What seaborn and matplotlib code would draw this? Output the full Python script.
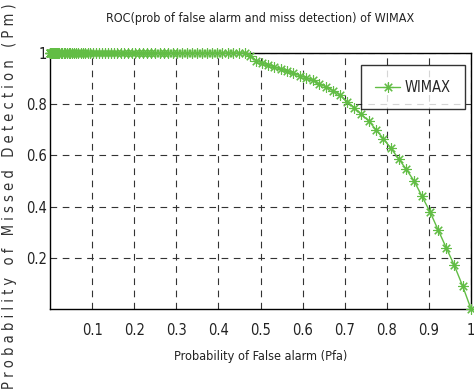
import matplotlib
matplotlib.use('Agg')
import matplotlib.pyplot as plt
import seaborn as sns
import pandas as pd

# ---- data ----
pfa = [0.0, 0.0001, 0.0004, 0.0009, 0.0016, 0.0025, 0.0036, 0.0049, 0.0064, 0.0081,
       0.01, 0.0121, 0.0144, 0.0169, 0.0196, 0.0225, 0.0256, 0.0289, 0.0324, 0.0361,
       0.04, 0.0441, 0.0484, 0.0529, 0.0576, 0.0625, 0.0676, 0.0729, 0.0784, 0.0841,
       0.09, 0.0961, 0.1024, 0.1089, 0.1156, 0.1225, 0.1296, 0.1369, 0.1444, 0.1521,
       0.16, 0.1681, 0.1764, 0.1849, 0.1936, 0.2025, 0.2116, 0.2209, 0.2304, 0.2401,
       0.25, 0.2601, 0.2704, 0.2809, 0.2916, 0.3025, 0.3136, 0.3249, 0.3364, 0.3481,
       0.36, 0.3721, 0.3844, 0.3969, 0.4096, 0.4225, 0.4356, 0.4489, 0.4624, 0.4761,
       0.49, 0.5041, 0.5184, 0.5329, 0.5476, 0.5625, 0.5776, 0.5929, 0.6084, 0.6241,
       0.64, 0.6561, 0.6724, 0.6889, 0.7056, 0.7225, 0.7396, 0.7569, 0.7744, 0.7921,
       0.81, 0.8281, 0.8464, 0.8649, 0.8836, 0.9025, 0.9216, 0.9409, 0.9604, 0.9801,
       1.0]
pmd = [1.0, 1.0, 1.0, 1.0, 1.0, 1.0, 1.0, 1.0, 1.0, 1.0,
       1.0, 1.0, 1.0, 1.0, 1.0, 1.0, 1.0, 1.0, 1.0, 1.0,
       1.0, 1.0, 1.0, 1.0, 1.0, 1.0, 1.0, 1.0, 1.0, 1.0,
       1.0, 1.0, 1.0, 1.0, 1.0, 1.0, 1.0, 1.0, 1.0, 1.0,
       1.0, 1.0, 1.0, 1.0, 1.0, 1.0, 1.0, 1.0, 1.0, 1.0,
       1.0, 1.0, 1.0, 1.0, 1.0, 1.0, 1.0, 1.0, 1.0, 1.0,
       1.0, 1.0, 1.0, 1.0, 1.0, 1.0, 1.0, 1.0, 1.0, 0.99,
       0.97, 0.96, 0.953, 0.945, 0.937, 0.93, 0.92, 0.912, 0.903, 0.893,
       0.879, 0.867, 0.853, 0.836, 0.81, 0.787, 0.76, 0.735, 0.70, 0.665,
       0.627, 0.587, 0.545, 0.50, 0.44, 0.38, 0.31, 0.24, 0.17, 0.09,
       0.0]
xticks = [0.1, 0.2, 0.3, 0.4, 0.5, 0.6, 0.7, 0.8, 0.9, 1.0]
xticklabels = ['0.1', '0.2', '0.3', '0.4', '0.5', '0.6', '0.7', '0.8', '0.9', '1']
yticks = [0.2, 0.4, 0.6, 0.8, 1.0]
yticklabels = ['0.2', '0.4', '0.6', '0.8', '1']

df = pd.DataFrame({'Pfa': pfa, 'Pmd': pmd})

sns.set_style('white')
# narrow face, closest to the squeezed MATLAB font
plt.rcParams['font.family'] = ['DejaVu Sans']
plt.rcParams['font.stretch'] = 'condensed'

green = '#62bd45'
asterisk = (8, 2, 0)   # MATLAB-style '*' marker

fig = plt.figure(figsize=(4.74, 3.92), dpi=100)
ax = fig.add_axes([0.1055, 0.2117, 0.8882, 0.6531])

sns.lineplot(data=df, x='Pfa', y='Pmd', ax=ax, sort=False, estimator=None,
             color=green, lw=1.0, marker=asterisk, markersize=7.5,
             markeredgecolor=green, markeredgewidth=0.8,
             label='WIMAX', clip_on=False, zorder=3)

ax.set_xlim(0, 1)
ax.set_ylim(0, 1)
ax.set_xticks(xticks)
ax.set_xticklabels(xticklabels)
ax.set_yticks(yticks)
ax.set_yticklabels(yticklabels)
ax.tick_params(direction='in', length=4, width=0.8, colors='#222222',
               labelsize=10.5, pad=10)
ax.tick_params(axis='y', pad=2)
ax.grid(True, color='0.2', linestyle=(0, (6, 5)), lw=0.8)
for s in ax.spines.values():
    s.set_color('black')
    s.set_linewidth(1.0)

ax.set_title('ROC(prob of false alarm and miss detection) of WIMAX',
             fontsize=9, pad=22, color='#222222')
ax.set_xlabel('Probability of False alarm (Pfa)', fontsize=9.1, labelpad=9,
              color='#222222')
ax.set_ylabel('P r o b a b i l i t y   o f   M i s s e d   D e t e c t i o n   ( P m )',
              fontsize=10.5, color='#333333')
ax.yaxis.set_label_coords(-0.078, 0.44)

leg = ax.legend(loc='upper right', bbox_to_anchor=(0.986, 0.953), frameon=True,
                fancybox=False, fontsize=10.5, handlelength=1.7,
                borderpad=1.0, handletextpad=0.3, borderaxespad=0)
leg.get_frame().set_edgecolor('black')
leg.get_frame().set_linewidth(1.0)

fig.savefig('out.png', dpi=100)
